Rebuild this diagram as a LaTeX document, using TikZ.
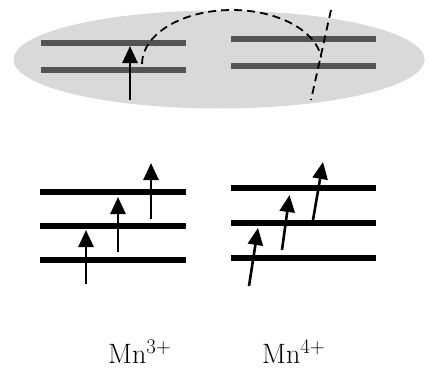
\documentclass[tikz,border=0pt]{standalone}
\usetikzlibrary{arrows.meta}
\begin{document}
\begin{tikzpicture}[x=1pt,y=-1pt,
  levelgray/.style={line width=6pt,draw=black!67},
  levelblack/.style={line width=6pt,draw=black},
  spin/.style={line width=2.6pt,-{Triangle[width=15pt,length=17pt]}},
  hop/.style={line width=1.8pt,dash pattern=on 8pt off 5pt},
  lbl/.style={font=\fontsize{28}{30}\selectfont,inner sep=0pt,anchor=base west}]
\useasboundingbox (0,0) rectangle (429,370);
% ellipse background
\fill[black!15] (219,59.5) ellipse [x radius=205.5, y radius=49];
% top levels
\draw[levelgray] (41,43) -- (186,43);
\draw[levelgray] (41,70) -- (186,70);
\draw[levelgray] (231,39) -- (376,39);
\draw[levelgray] (231,66) -- (376,66);
\draw[spin] (130,100) -- (130,46);
% dashed arc and line
\draw[hop] (142,64) arc[start angle=180,end angle=7,x radius=90,y radius=-54];
\draw[hop] (331,10) -- (311,100);
% bottom left levels
\draw[levelblack] (40,191.5) -- (186,191.5);
\draw[levelblack] (40,226) -- (186,226);
\draw[levelblack] (40,260) -- (186,260);
\draw[spin] (86,284) -- (86,230);
\draw[spin] (118,252) -- (118,197);
\draw[spin] (151,219) -- (151,163);
% bottom right levels
\draw[levelblack] (231,187.5) -- (376,187.5);
\draw[levelblack] (231,222.5) -- (376,222.5);
\draw[levelblack] (231,257.5) -- (376,257.5);
\draw[spin] (249,286) -- (258,228);
\draw[spin] (282,250) -- (289.5,195);
\draw[spin] (313,220) -- (323,162);
% labels
\node[lbl] (mn3) at (108,363) {Mn$^{3+}$};
\node[lbl] (mn4) at (262,363) {Mn$^{4+}$};
\end{tikzpicture}
\end{document}
